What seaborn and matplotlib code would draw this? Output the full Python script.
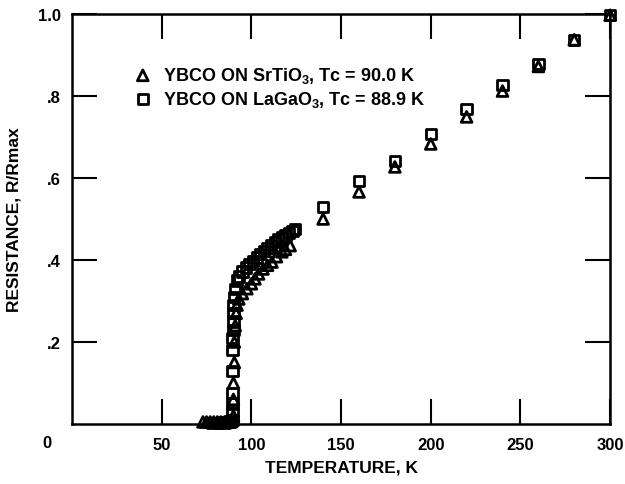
import matplotlib
matplotlib.use("Agg")
import matplotlib.pyplot as plt
import seaborn as sns
import pandas as pd

# --- data ---
T_tri = [73, 75, 77, 79, 81, 83, 85, 87, 88, 89,
         90, 90, 90, 90.5, 90.5, 91, 91.5, 92,
         93, 95, 97.5, 100, 102, 104, 106.5, 109, 111.5, 114, 117, 119, 121.6,
         140, 160, 180, 200, 220, 240, 260, 280, 300]
R_tri = [0.005, 0.005, 0.005, 0.005, 0.005, 0.005, 0.005, 0.005, 0.005, 0.006,
         0.02, 0.06, 0.10, 0.15, 0.20, 0.24, 0.27, 0.29,
         0.305, 0.318, 0.33, 0.342, 0.354, 0.366, 0.378, 0.387, 0.395, 0.408, 0.42, 0.426, 0.435,
         0.50, 0.566, 0.627, 0.683, 0.749, 0.812, 0.872, 0.937, 0.997]

T_sq = [78, 82, 85, 87, 88,
        89.5, 89.5, 89.5, 89.5, 89.5, 89.5, 89.5, 90, 90, 90, 90, 90.5, 91,
        92, 93, 95, 97, 99, 101, 103, 105, 107, 109, 111, 113, 115, 117, 119, 121, 123, 124.5,
        140, 160, 180, 200, 220, 240, 260, 280, 300]
R_sq = [0.003, 0.003, 0.004, 0.005, 0.006,
        0.01, 0.03, 0.05, 0.075, 0.13, 0.18, 0.21, 0.23, 0.25, 0.27, 0.29, 0.31, 0.33,
        0.35, 0.36, 0.372, 0.382, 0.39, 0.398, 0.406, 0.414, 0.422, 0.43, 0.437, 0.444, 0.45, 0.455, 0.46, 0.465, 0.47, 0.475,
        0.529, 0.593, 0.641, 0.707, 0.768, 0.827, 0.878, 0.936, 0.997]

labels = [r"YBCO ON SrTiO$_3$, Tc = 90.0 K", r"YBCO ON LaGaO$_3$, Tc = 88.9 K"]
xticks = [50, 100, 150, 200, 250, 300]
xticklabels = ["50", "100", "150", "200", "250", "300"]
yticks = [0.2, 0.4, 0.6, 0.8, 1.0]
yticklabels = [".2", ".4", ".6", ".8", "1.0"]

sns.set_style("white")
plt.rcParams["font.family"] = ["Liberation Sans", "DejaVu Sans"]
plt.rcParams["font.weight"] = "bold"
plt.rcParams["mathtext.default"] = "regular"
plt.rcParams["text.color"] = "black"
plt.rcParams["axes.labelcolor"] = "black"
plt.rcParams["xtick.color"] = "black"
plt.rcParams["ytick.color"] = "black"

fig = plt.figure(figsize=(6.25, 4.85), dpi=100)
ax = fig.add_axes([0.1152, 0.1237, 0.861, 0.8454])

df_tri = pd.DataFrame({"T": T_tri, "R": R_tri})
df_sq = pd.DataFrame({"T": T_sq, "R": R_sq})

sns.scatterplot(data=df_tri, x="T", y="R", marker="^", s=60, facecolor="none",
                edgecolor="black", linewidth=2.0, ax=ax, label=labels[0], zorder=3,
                clip_on=False)
sns.scatterplot(data=df_sq, x="T", y="R", marker="s", s=55, facecolor="none",
                edgecolor="black", linewidth=2.0, ax=ax, label=labels[1], zorder=3,
                clip_on=False)

ax.set_xlim(0, 300)
ax.set_ylim(0, 1.0)
ax.set_xticks(xticks)
ax.set_xticklabels(xticklabels)
ax.set_yticks(yticks)
ax.set_yticklabels(yticklabels)

for s in ax.spines.values():
    s.set_linewidth(1.8)
    s.set_color("black")
    s.set_visible(True)

ax.tick_params(axis="both", which="major", direction="in", length=18, width=1.5,
               top=True, right=True, bottom=True, left=True, labelsize=12,
               colors="black")
ax.tick_params(axis="x", pad=9)
ax.tick_params(axis="y", pad=8)
for lab in ax.get_xticklabels() + ax.get_yticklabels():
    lab.set_fontweight("bold")

ax.text(-0.047, -0.045, "0", transform=ax.transAxes, ha="center", va="center",
        fontsize=12, fontweight="bold", color="black")

ax.set_xlabel("TEMPERATURE, K", fontsize=12.5, fontweight="bold", labelpad=6)
ax.set_ylabel("RESISTANCE, R/Rmax", fontsize=12.5, fontweight="bold", labelpad=12)

leg = ax.legend(loc="upper left", bbox_to_anchor=(0.098, 0.893), frameon=False,
                fontsize=13, handletextpad=0.5, labelspacing=0.2,
                borderaxespad=0, handlelength=1.2)
for t in leg.get_texts():
    t.set_fontweight("bold")
    t.set_color("black")

fig.savefig("out.png", dpi=100)
